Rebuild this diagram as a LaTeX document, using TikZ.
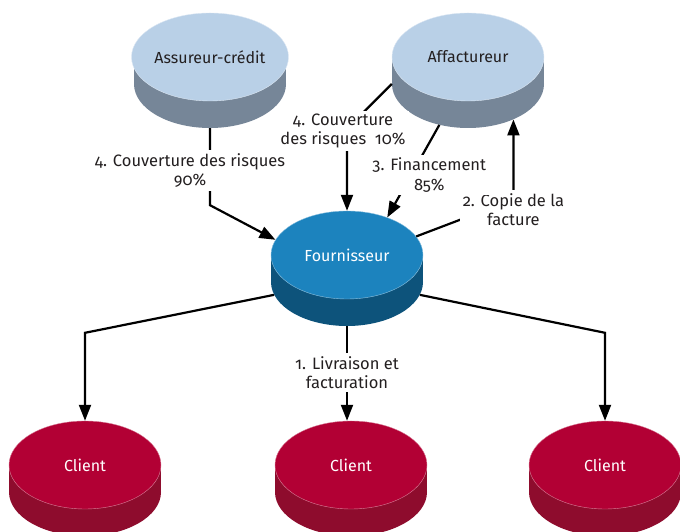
\documentclass[tikz,border=0pt]{standalone}
\usepackage{fontspec}
\setmainfont{Fira Sans}[Numbers=OldStyle]
\usetikzlibrary{calc,positioning,arrows.meta,shapes}

\definecolor{paleblue}{HTML}{B9D0E7}
\definecolor{slate}{HTML}{768698}
\definecolor{supblue}{HTML}{1C83BE}
\definecolor{supdark}{HTML}{0D537B}
\definecolor{clientred}{HTML}{B20034}
\definecolor{clientdark}{HTML}{8E0C2D}
\definecolor{ink}{HTML}{231F20}

% disc: name, centre, text colour, top colour, side colour, text
\newcommand{\disc}[6]{%
  \node[discface,draw=none,fill=#5] (#1b) at ($(#2)+(0,-27)$) {};
  \fill[#5] (#1b.west) rectangle ($(#2)+(76,0)$);
  \node[discface,fill=#4,draw=#4!50!white,text=#3] (#1) at (#2) {#6};
}

\begin{document}
\begin{tikzpicture}[x=1pt,y=1pt,
    discface/.style={ellipse,minimum width=152pt,minimum height=88pt,inner sep=0pt,line width=0.4pt,font=\fontsize{16}{19}\selectfont},
    lbl/.style={fill=white,align=center,inner sep=3pt,text=ink,font=\fontsize{16.5}{19.5}\selectfont},
    arr/.style={line width=2.2pt,-{Triangle[length=16pt,width=12pt]}}]
  \useasboundingbox (0,0) rectangle (680,532);

  \disc{ass}{210,475}{ink}{paleblue}{slate}{Assureur-crédit}
  \disc{aff}{468,475}{ink}{paleblue}{slate}{Affactureur}
  \disc{four}{347,277}{white}{supblue}{supdark}{Fournisseur}
  \disc{cl1}{85,67}{white}{clientred}{clientdark}{Client}
  \disc{cl2}{351,67}{white}{clientred}{clientdark}{Client}
  \disc{cl3}{605,67}{white}{clientred}{clientdark}{Client}

  % deliveries to the clients
  \draw[arr] (fourb.190) -- ($(cl1.north)+(0,88)$) -- (cl1.north);
  \draw[arr] (fourb.south) -- (fourb.south |- cl2.north)
    node[lbl,midway,yshift=1pt] {1. Livraison et\\facturation};
  \draw[arr] (fourb.-10) -- ($(cl3.north)+(0,88)$) -- (cl3.north);

  % invoice copy and financing
  \coordinate (cbend) at ($(affb.-38)+(0,-80)$);
  \draw[arr] (four.15) -- (cbend) node[lbl,yshift=-10pt] {2. Copie de la\\facture} -- (affb.-38);
  \draw[arr] (affb.235) -- (four.43) node[lbl,midway,xshift=16pt,yshift=-4pt] {3. Financement\\85\%};

  % risk cover
  \draw[arr] (affb.west) -- ($(four.north)+(0,82)$)
    node[lbl,xshift=-4pt,yshift=-2pt] {4. Couverture\\des risques\ \ 10\%} -- (four.north);
  \draw[arr] (assb.south) -- ++(0,-77)
    node[lbl,pos=0.55,xshift=-20pt] {4. Couverture des risques\\90\%} -- (four.168);
\end{tikzpicture}
\end{document}
